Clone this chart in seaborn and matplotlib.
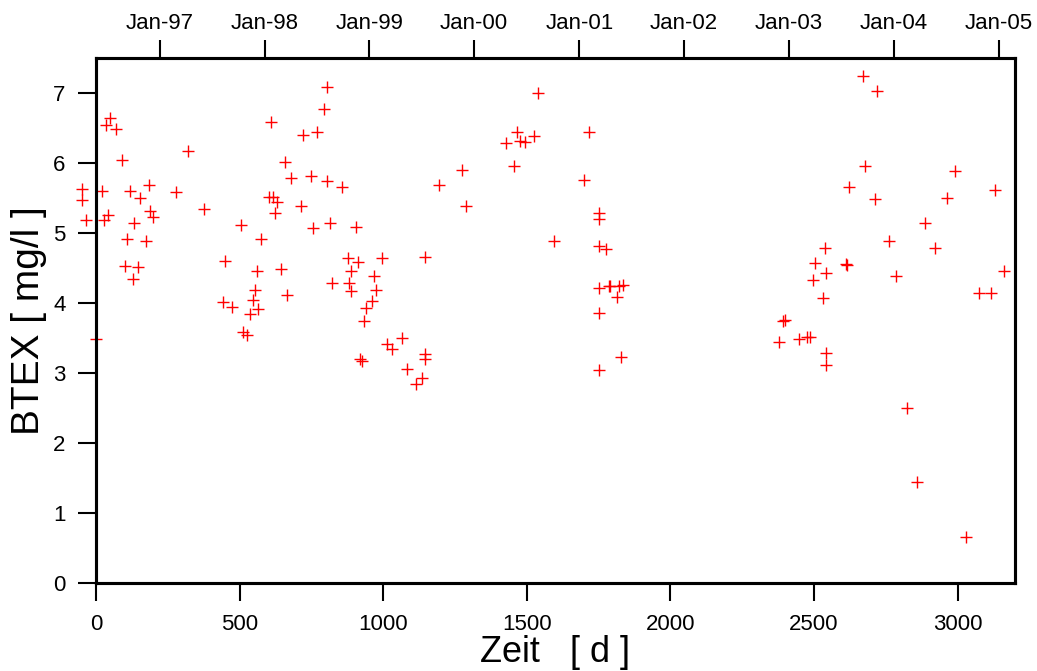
import pandas as pd
import numpy as np
import matplotlib
matplotlib.use("Agg")
import matplotlib.pyplot as plt
import seaborn as sns

# sampling day (days since start of monitoring) and BTEX concentration
days = [-48, -48, -36, 0, 21, 29, 35, 43, 49, 70, 91, 101, 108, 118, 128, 131, 147, 154, 175, 184,
        188, 200, 279, 321, 376, 441, 449, 475, 504, 511, 525, 537, 545, 554, 559, 565, 576, 601,
        608, 615, 622, 629, 644, 658, 664, 679, 714, 721, 748, 754, 771, 795, 803, 804, 814, 821,
        855, 876, 881, 888, 888, 905, 911, 919, 925, 934, 940, 960, 968, 975, 995, 1014, 1030,
        1064, 1084, 1114, 1134, 1147, 1147, 1147, 1195, 1274, 1288, 1426, 1455, 1465, 1476, 1494,
        1526, 1540, 1596, 1699, 1715, 1751, 1751, 1751, 1751, 1751, 1751, 1775, 1786, 1790, 1813,
        1821, 1827, 1834, 2377, 2393, 2399, 2447, 2477, 2486, 2498, 2505, 2531, 2537, 2542, 2542,
        2542, 2611, 2614, 2623, 2672, 2679, 2713, 2721, 2761, 2786, 2825, 2860, 2888, 2922, 2964,
        2992, 3028, 3076, 3115, 3131, 3163]
btex = [5.63, 5.47, 5.18, 3.48, 5.60, 5.18, 6.55, 5.26, 6.65, 6.48, 6.04, 4.53, 4.91, 5.60, 4.35,
        5.15, 4.52, 5.50, 4.88, 5.68, 5.31, 5.23, 5.59, 6.17, 5.34, 4.01, 4.60, 3.95, 5.11, 3.58,
        3.54, 3.84, 4.05, 4.18, 4.46, 3.92, 4.92, 5.52, 6.58, 5.52, 5.29, 5.44, 4.49, 6.01, 4.12,
        5.79, 5.39, 6.40, 5.81, 5.07, 6.45, 6.77, 7.08, 5.75, 5.15, 4.28, 5.66, 4.64, 4.28, 4.46,
        4.17, 5.09, 4.58, 3.20, 3.17, 3.75, 3.93, 4.03, 4.38, 4.19, 4.65, 3.41, 3.35, 3.50, 3.06,
        2.84, 2.93, 4.66, 3.27, 3.20, 5.68, 5.90, 5.39, 6.29, 5.96, 6.45, 6.32, 6.30, 6.39, 7.00,
        4.89, 5.76, 6.44, 5.29, 5.20, 4.81, 4.22, 3.86, 3.04, 4.77, 4.24, 4.24, 4.08, 4.24, 3.23,
        4.26, 3.45, 3.75, 3.76, 3.48, 3.51, 3.51, 4.33, 4.57, 4.07, 4.79, 4.43, 3.29, 3.12, 4.56,
        4.54, 5.66, 7.24, 5.96, 5.48, 7.03, 4.88, 4.38, 2.50, 1.44, 5.15, 4.79, 5.50, 5.89, 0.66,
        4.15, 4.15, 5.62, 4.46]

start_date = pd.Timestamp("1996-05-24")
years = list(range(1997, 2006))

df = pd.DataFrame({"Zeit": days, "BTEX": btex})

sns.set_style("ticks")
plt.rcParams["font.family"] = ["Liberation Sans", "DejaVu Sans"]
plt.rcParams.update({"text.color": "black", "axes.labelcolor": "black",
                     "xtick.color": "black", "ytick.color": "black"})

fig = plt.figure(figsize = (10.37, 6.71), dpi = 100)
ax = fig.add_axes([96 / 1037, 88 / 671, 919 / 1037, 525 / 671])

sns.scatterplot(data = df, x = "Zeit", y = "BTEX", marker = "+", color = "red", s = 70, linewidth = 1.0,
                clip_on = False, ax = ax, legend = False)

ax.set_xlim(0, 3200)
ax.set_ylim(0, 7.5)
ax.set_xticks(range(0, 3001, 500))
ax.set_yticks(range(0, 8))
ax.tick_params(axis = "both", direction = "out", length = 13, width = 1.5, labelsize = 16)
ax.tick_params(axis = "x", pad = 9)
ax.tick_params(axis = "y", pad = 9)
ax.set_xlabel("Zeit   [ d ]", fontsize = 26, labelpad = 0)
ax.set_ylabel("BTEX [ mg/l ]", fontsize = 28, labelpad = 4)
for side in ax.spines.values():
    side.set_linewidth(2.2)
    side.set_color("black")

# calendar axis on top
top = ax.twiny()
top.set_xlim(ax.get_xlim())
top_pos = [(pd.Timestamp(f"{y}-01-01") - start_date).days for y in years]
top.set_xticks(top_pos)
top.set_xticklabels([f"Jan-{y % 100:02d}" for y in years])
top.tick_params(axis = "x", direction = "out", length = 13, width = 1.5, labelsize = 16, pad = 4)
for side in top.spines.values():
    side.set_linewidth(2.2)
    side.set_color("black")

fig.savefig("out.png", dpi = 100)
